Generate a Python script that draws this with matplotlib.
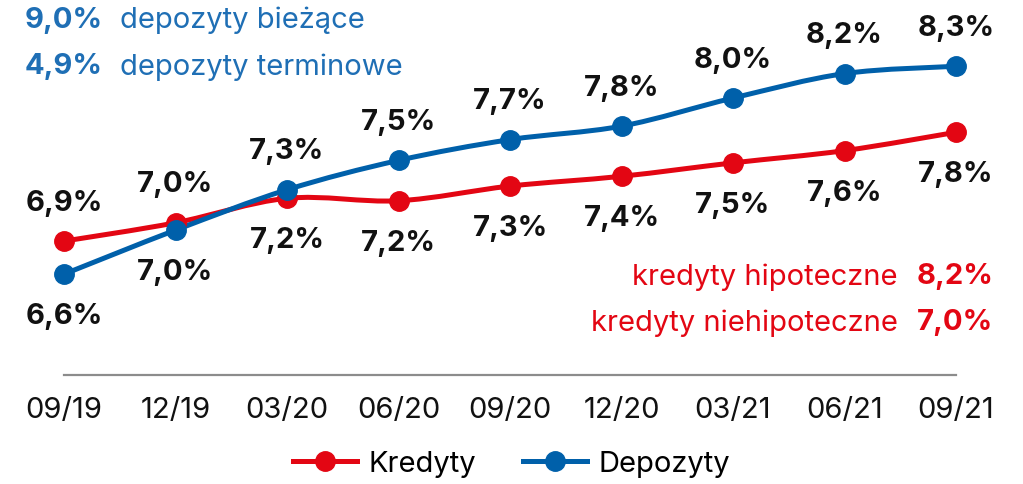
import matplotlib
matplotlib.use("Agg")
import matplotlib.pyplot as plt
from matplotlib.path import Path
from matplotlib.patches import PathPatch
from matplotlib.lines import Line2D
import numpy as np

categories = ["09/19", "12/19", "03/20", "06/20", "09/20", "12/20", "03/21", "06/21", "09/21"]
kredyty = [6.87, 7.02, 7.22, 7.20, 7.32, 7.40, 7.51, 7.61, 7.76]
depozyty = [6.60, 6.96, 7.29, 7.53, 7.70, 7.81, 8.04, 8.24, 8.30]
kredyty_pos = ["above", "above", "below", "below", "below", "below", "below", "below", "below"]
depozyty_pos = ["below", "below", "above", "above", "above", "above", "above", "above", "above"]
dep_notes = [("9,0%", "depozyty bieżące"), ("4,9%", "depozyty terminowe")]
kred_notes = [("kredyty hipoteczne", "8,2%"), ("kredyty niehipoteczne", "7,0%")]

RED = "#E30613"
BLUE = "#0060AA"
BLUE_TXT = "#1F6FB5"
FONT = "Inter"

plt.rcParams["font.family"] = [FONT, "DejaVu Sans"]

fig = plt.figure(figsize=(10.23, 4.85), dpi=100)
ax = fig.add_axes([0, 109 / 485, 1, 376 / 485])
ax.set_xlim(-64 / 111.5, (1023 - 64) / 111.5)
ax.set_ylim(5.775, 8.85)
ax.patch.set_visible(False)


def smooth_path(xs, ys):
    pts = np.column_stack([xs, ys]).astype(float)
    verts = [pts[0]]
    codes = [Path.MOVETO]
    n = len(pts)
    for i in range(n - 1):
        p0 = pts[i - 1] if i > 0 else pts[i]
        p1 = pts[i]
        p2 = pts[i + 1]
        p3 = pts[i + 2] if i + 2 < n else pts[i + 1]
        c1 = p1 + (p2 - p0) / 6.0
        c2 = p2 - (p3 - p1) / 6.0
        verts += [c1, c2, p2]
        codes += [Path.CURVE4] * 3
    return Path(verts, codes)


x = np.arange(len(categories))
for vals, col, poss in [(kredyty, RED, kredyty_pos), (depozyty, BLUE, depozyty_pos)]:
    ax.add_patch(PathPatch(smooth_path(x, vals), facecolor="none", edgecolor=col,
                           lw=3.6, capstyle="round", joinstyle="round", zorder=2))
    ax.plot(x, vals, "o", color=col, ms=14, ls="none", zorder=3)
    for xi, v, p in zip(x, vals, poss):
        off = 28 if p == "above" else -30
        ax.annotate(f"{v:.1f}%".replace(".", ","), (xi, v), xytext=(0, off),
                    textcoords="offset points", ha="center", va="center",
                    fontsize=21, fontweight="bold", color="#111111")

for s in ["top", "right", "left"]:
    ax.spines[s].set_visible(False)
ax.spines["bottom"].set_bounds(0, len(categories) - 1)
ax.spines["bottom"].set_color("#8C8C8C")
ax.spines["bottom"].set_linewidth(1.6)
ax.set_yticks([])
ax.set_xticks(x)
ax.set_xticklabels(categories, fontsize=21, color="#111111")
ax.tick_params(axis="x", length=0, pad=15)

# top-left notes (deposits)
for i, (num, lab) in enumerate(dep_notes):
    yy = 1 - (20 + 47 * i) / 485
    fig.text(25 / 1023, yy, num, ha="left", va="center", fontsize=21,
             fontweight="bold", color=BLUE_TXT)
    fig.text(120 / 1023, yy, lab, ha="left", va="center", fontsize=21, color=BLUE_TXT)

# right notes (loans)
for i, (lab, num) in enumerate(kred_notes):
    yy = 1 - (277 + 46 * i) / 485
    fig.text(898 / 1023, yy, lab, ha="right", va="center", fontsize=21, color=RED)
    fig.text(993 / 1023, yy, num, ha="right", va="center", fontsize=21,
             fontweight="bold", color=RED)

handles = [Line2D([], [], color=RED, lw=3.6, marker="o", ms=14),
           Line2D([], [], color=BLUE, lw=3.6, marker="o", ms=14)]
fig.legend(handles, ["Kredyty", "Depozyty"], loc="center", bbox_to_anchor=(0.5, 20 / 485),
           ncol=2, frameon=False, fontsize=21, handlelength=2.2, handletextpad=0.4,
           columnspacing=1.6)

fig.savefig("out.png", dpi=100)
